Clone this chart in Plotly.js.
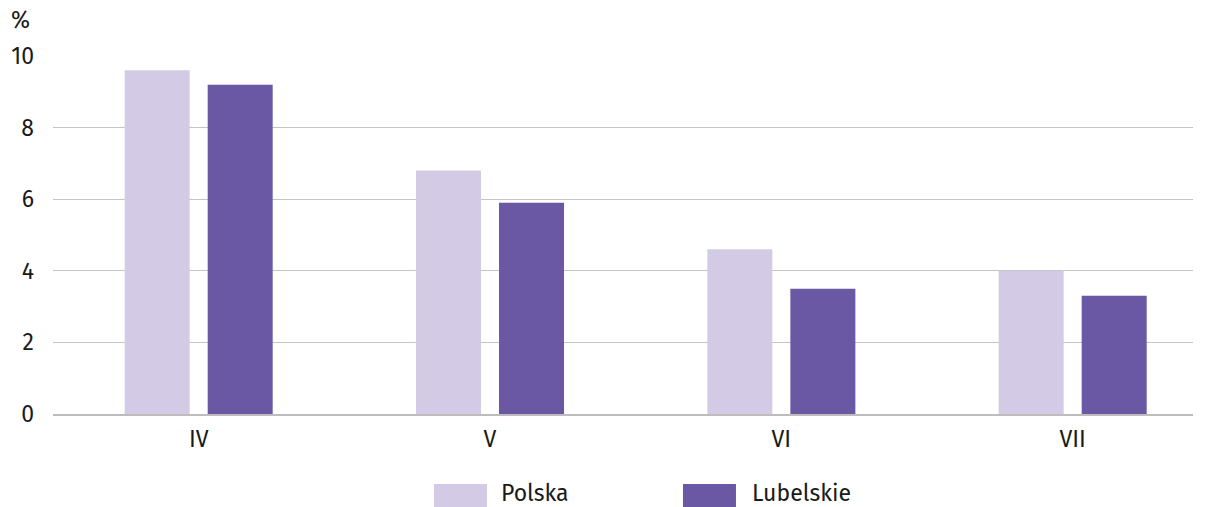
<!DOCTYPE html>
<html>
<head>
<meta charset="utf-8">
<script src="https://cdn.plot.ly/plotly-3.0.1.min.js"></script>
<style>html,body{margin:0;padding:0;background:#fff;}#chart{width:1208px;height:507px;}</style>
</head>
<body>
<div id="chart"></div>
<script>
const categories = ["IV", "V", "VI", "VII"];
const seriesNames = ["Polska", "Lubelskie"];
const polska = [9.6, 6.8, 4.6, 4.0];
const lubelskie = [9.2, 5.9, 3.5, 3.3];
const yTicks = [0, 2, 4, 6, 8, 10];

const COLORS = ["#d3cbe5", "#6a58a5"];
const FONT = "Fira Sans, Open Sans, Noto Sans, sans-serif";
const FS = 23;

const traces = [
  {type: "bar", name: seriesNames[0], x: categories, y: polska,
   marker: {color: COLORS[0], line: {width: 0}}, hoverinfo: "y"},
  {type: "bar", name: seriesNames[1], x: categories, y: lubelskie,
   marker: {color: COLORS[1], line: {width: 0}}, hoverinfo: "y"}
];

// custom legend (large swatches) in paper coordinates
const legendSwatchX = [[0.3342, 0.3807], [0.5526, 0.5991]];
const legendTextX = [0.3920, 0.6120];
const shapes = seriesNames.map((n, i) => ({
  type: "rect", xref: "paper", yref: "paper",
  x0: legendSwatchX[i][0], x1: legendSwatchX[i][1], y0: -0.2598, y1: -0.1955,
  fillcolor: COLORS[i], line: {width: 0}
}));
const annotations = seriesNames.map((n, i) => ({
  text: n, xref: "paper", yref: "paper", x: legendTextX[i], y: -0.2207,
  xanchor: "left", yanchor: "middle", showarrow: false, font: {size: FS}, borderpad: 0
}));
annotations.push({text: "%", xref: "paper", yref: "paper", x: -0.0386, y: 1.10,
                  xanchor: "left", yanchor: "middle", showarrow: false, font: {size: FS}});

const layout = {
  width: 1208, height: 507,
  margin: {l: 53, r: 15, t: 56, b: 93},
  paper_bgcolor: "#fff", plot_bgcolor: "#fff",
  font: {family: FONT, size: FS, color: "#1a1a1a"},
  barmode: "group", bargap: 0.43, bargroupgap: 0.217,
  xaxis: {type: "category", range: [-0.5, 3.413], showgrid: false,
          showline: true, linecolor: "#bdbdbd", linewidth: 1.5, ticks: "",
          ticklabelstandoff: 4, tickfont: {size: FS}},
  yaxis: {range: [0, 10], tickvals: yTicks, showgrid: true, gridcolor: "#c4c4c4", gridwidth: 1.2,
          zeroline: false, showline: false, ticks: "", ticklabelstandoff: 18, tickfont: {size: FS}},
  showlegend: false,
  shapes: shapes,
  annotations: annotations
};
Plotly.newPlot("chart", traces, layout, {displayModeBar: false, staticPlot: true});
</script>
</body>
</html>
